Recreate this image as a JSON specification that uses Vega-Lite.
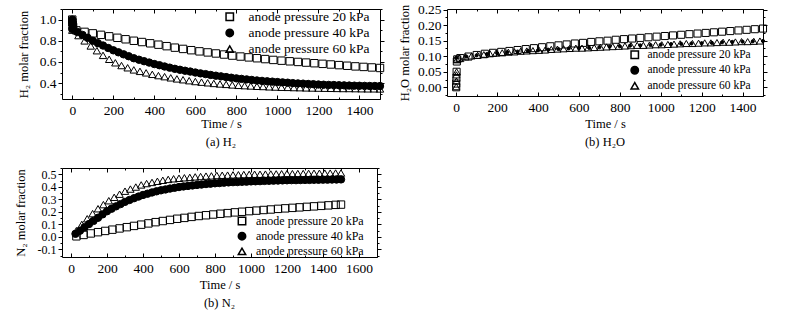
{
"$schema": "https://vega.github.io/schema/vega-lite/v6.json",
"background": "white",
"padding": {"left": 13, "top": 2, "right": 0, "bottom": 0},
"datasets": {
"h2": [
{"s":"20","t":0,"v":1.0},{"s":"20","t":1,"v":0.975},{"s":"20","t":2,"v":0.95},{"s":"20","t":4,"v":0.93},
{"s":"20","t":20,"v":0.898},{"s":"20","t":60,"v":0.884},{"s":"20","t":100,"v":0.87},{"s":"20","t":140,"v":0.856},{"s":"20","t":180,"v":0.842},{"s":"20","t":220,"v":0.828},{"s":"20","t":260,"v":0.814},{"s":"20","t":300,"v":0.80},{"s":"20","t":340,"v":0.788},{"s":"20","t":380,"v":0.776},{"s":"20","t":420,"v":0.763},{"s":"20","t":460,"v":0.749},{"s":"20","t":500,"v":0.735},{"s":"20","t":540,"v":0.723},{"s":"20","t":580,"v":0.711},{"s":"20","t":620,"v":0.70},{"s":"20","t":660,"v":0.69},{"s":"20","t":700,"v":0.68},{"s":"20","t":740,"v":0.67},{"s":"20","t":780,"v":0.66},{"s":"20","t":820,"v":0.651},{"s":"20","t":860,"v":0.643},{"s":"20","t":900,"v":0.635},{"s":"20","t":940,"v":0.627},{"s":"20","t":980,"v":0.619},{"s":"20","t":1020,"v":0.612},{"s":"20","t":1060,"v":0.606},{"s":"20","t":1100,"v":0.60},{"s":"20","t":1140,"v":0.594},{"s":"20","t":1180,"v":0.588},{"s":"20","t":1220,"v":0.582},{"s":"20","t":1260,"v":0.576},{"s":"20","t":1300,"v":0.57},{"s":"20","t":1340,"v":0.564},{"s":"20","t":1380,"v":0.558},{"s":"20","t":1420,"v":0.553},{"s":"20","t":1460,"v":0.548},{"s":"20","t":1500,"v":0.543},
{"s":"40","t":0,"v":1.0},{"s":"40","t":1,"v":0.975},{"s":"40","t":2,"v":0.95},{"s":"40","t":4,"v":0.93},
{"s":"40","t":0,"v":0.91},{"s":"40","t":25,"v":0.883},{"s":"40","t":50,"v":0.855},{"s":"40","t":75,"v":0.828},{"s":"40","t":100,"v":0.80},{"s":"40","t":125,"v":0.777},{"s":"40","t":150,"v":0.755},{"s":"40","t":175,"v":0.732},{"s":"40","t":200,"v":0.71},{"s":"40","t":225,"v":0.691},{"s":"40","t":250,"v":0.672},{"s":"40","t":275,"v":0.654},{"s":"40","t":300,"v":0.635},{"s":"40","t":325,"v":0.621},{"s":"40","t":350,"v":0.607},{"s":"40","t":375,"v":0.594},{"s":"40","t":400,"v":0.58},{"s":"40","t":425,"v":0.569},{"s":"40","t":450,"v":0.557},{"s":"40","t":475,"v":0.546},{"s":"40","t":500,"v":0.535},{"s":"40","t":525,"v":0.526},{"s":"40","t":550,"v":0.517},{"s":"40","t":575,"v":0.509},{"s":"40","t":600,"v":0.50},{"s":"40","t":625,"v":0.492},{"s":"40","t":650,"v":0.485},{"s":"40","t":675,"v":0.477},{"s":"40","t":700,"v":0.47},{"s":"40","t":725,"v":0.464},{"s":"40","t":750,"v":0.457},{"s":"40","t":775,"v":0.451},{"s":"40","t":800,"v":0.445},{"s":"40","t":825,"v":0.44},{"s":"40","t":850,"v":0.435},{"s":"40","t":875,"v":0.43},{"s":"40","t":900,"v":0.425},{"s":"40","t":925,"v":0.421},{"s":"40","t":950,"v":0.417},{"s":"40","t":975,"v":0.414},{"s":"40","t":1000,"v":0.41},{"s":"40","t":1025,"v":0.407},{"s":"40","t":1050,"v":0.404},{"s":"40","t":1075,"v":0.40},{"s":"40","t":1100,"v":0.397},{"s":"40","t":1125,"v":0.395},{"s":"40","t":1150,"v":0.392},{"s":"40","t":1175,"v":0.39},{"s":"40","t":1200,"v":0.387},{"s":"40","t":1225,"v":0.385},{"s":"40","t":1250,"v":0.383},{"s":"40","t":1275,"v":0.382},{"s":"40","t":1300,"v":0.38},{"s":"40","t":1325,"v":0.379},{"s":"40","t":1350,"v":0.377},{"s":"40","t":1375,"v":0.376},{"s":"40","t":1400,"v":0.375},{"s":"40","t":1425,"v":0.374},{"s":"40","t":1450,"v":0.373},{"s":"40","t":1475,"v":0.373},{"s":"40","t":1500,"v":0.372},
{"s":"60","t":0,"v":1.0},{"s":"60","t":1,"v":0.975},{"s":"60","t":2,"v":0.95},{"s":"60","t":4,"v":0.93},
{"s":"60","t":0,"v":0.90},{"s":"60","t":30,"v":0.849},{"s":"60","t":60,"v":0.799},{"s":"60","t":90,"v":0.751},{"s":"60","t":120,"v":0.706},{"s":"60","t":150,"v":0.662},{"s":"60","t":180,"v":0.625},{"s":"60","t":210,"v":0.592},{"s":"60","t":240,"v":0.566},{"s":"60","t":270,"v":0.545},{"s":"60","t":300,"v":0.525},{"s":"60","t":330,"v":0.511},{"s":"60","t":360,"v":0.497},{"s":"60","t":390,"v":0.483},{"s":"60","t":420,"v":0.471},{"s":"60","t":450,"v":0.461},{"s":"60","t":480,"v":0.45},{"s":"60","t":510,"v":0.44},{"s":"60","t":540,"v":0.432},{"s":"60","t":570,"v":0.423},{"s":"60","t":600,"v":0.415},{"s":"60","t":630,"v":0.409},{"s":"60","t":660,"v":0.403},{"s":"60","t":690,"v":0.397},{"s":"60","t":720,"v":0.392},{"s":"60","t":750,"v":0.388},{"s":"60","t":780,"v":0.383},{"s":"60","t":810,"v":0.379},{"s":"60","t":840,"v":0.376},{"s":"60","t":870,"v":0.373},{"s":"60","t":900,"v":0.37},{"s":"60","t":930,"v":0.368},{"s":"60","t":960,"v":0.365},{"s":"60","t":990,"v":0.363},{"s":"60","t":1020,"v":0.361},{"s":"60","t":1050,"v":0.36},{"s":"60","t":1080,"v":0.358},{"s":"60","t":1110,"v":0.357},{"s":"60","t":1140,"v":0.355},{"s":"60","t":1170,"v":0.354},{"s":"60","t":1200,"v":0.353},{"s":"60","t":1230,"v":0.352},{"s":"60","t":1260,"v":0.351},{"s":"60","t":1290,"v":0.35},{"s":"60","t":1320,"v":0.349},{"s":"60","t":1350,"v":0.349},{"s":"60","t":1380,"v":0.348},{"s":"60","t":1410,"v":0.347},{"s":"60","t":1440,"v":0.346},{"s":"60","t":1470,"v":0.346},{"s":"60","t":1500,"v":0.345}
],
"h2o": [
{"s":"20","t":0,"v":0.0},{"s":"20","t":0,"v":0.012},{"s":"20","t":1,"v":0.03},{"s":"20","t":2,"v":0.05},{"s":"20","t":3,"v":0.083},{"s":"20","t":5,"v":0.09},
{"s":"20","t":20,"v":0.094},{"s":"20","t":60,"v":0.099},{"s":"20","t":100,"v":0.104},{"s":"20","t":140,"v":0.108},{"s":"20","t":180,"v":0.111},{"s":"20","t":220,"v":0.114},{"s":"20","t":260,"v":0.117},{"s":"20","t":300,"v":0.12},{"s":"20","t":340,"v":0.123},{"s":"20","t":380,"v":0.126},{"s":"20","t":420,"v":0.129},{"s":"20","t":460,"v":0.132},{"s":"20","t":500,"v":0.135},{"s":"20","t":540,"v":0.138},{"s":"20","t":580,"v":0.141},{"s":"20","t":620,"v":0.143},{"s":"20","t":660,"v":0.146},{"s":"20","t":700,"v":0.148},{"s":"20","t":740,"v":0.15},{"s":"20","t":780,"v":0.153},{"s":"20","t":820,"v":0.155},{"s":"20","t":860,"v":0.157},{"s":"20","t":900,"v":0.159},{"s":"20","t":940,"v":0.161},{"s":"20","t":980,"v":0.163},{"s":"20","t":1020,"v":0.165},{"s":"20","t":1060,"v":0.167},{"s":"20","t":1100,"v":0.169},{"s":"20","t":1140,"v":0.171},{"s":"20","t":1180,"v":0.173},{"s":"20","t":1220,"v":0.175},{"s":"20","t":1260,"v":0.177},{"s":"20","t":1300,"v":0.179},{"s":"20","t":1340,"v":0.181},{"s":"20","t":1380,"v":0.183},{"s":"20","t":1420,"v":0.185},{"s":"20","t":1460,"v":0.187},{"s":"20","t":1500,"v":0.189},
{"s":"40","t":0,"v":0.095},{"s":"40","t":50,"v":0.099},{"s":"40","t":100,"v":0.103},{"s":"40","t":150,"v":0.107},{"s":"40","t":200,"v":0.11},{"s":"40","t":250,"v":0.113},{"s":"40","t":300,"v":0.115},{"s":"40","t":350,"v":0.117},{"s":"40","t":400,"v":0.119},{"s":"40","t":450,"v":0.121},{"s":"40","t":500,"v":0.123},{"s":"40","t":550,"v":0.125},{"s":"40","t":600,"v":0.126},{"s":"40","t":650,"v":0.127},{"s":"40","t":700,"v":0.129},{"s":"40","t":750,"v":0.131},{"s":"40","t":800,"v":0.132},{"s":"40","t":850,"v":0.134},{"s":"40","t":900,"v":0.135},{"s":"40","t":950,"v":0.136},{"s":"40","t":1000,"v":0.137},{"s":"40","t":1050,"v":0.139},{"s":"40","t":1100,"v":0.14},{"s":"40","t":1150,"v":0.141},{"s":"40","t":1200,"v":0.142},{"s":"40","t":1250,"v":0.143},{"s":"40","t":1300,"v":0.145},{"s":"40","t":1350,"v":0.146},{"s":"40","t":1400,"v":0.147},{"s":"40","t":1450,"v":0.148},{"s":"40","t":1500,"v":0.149},
{"s":"60","t":0,"v":0.002},{"s":"60","t":1,"v":0.02},{"s":"60","t":1,"v":0.04},{"s":"60","t":2,"v":0.05},{"s":"60","t":4,"v":0.09},
{"s":"60","t":15,"v":0.094},{"s":"60","t":45,"v":0.098},{"s":"60","t":75,"v":0.101},{"s":"60","t":105,"v":0.103},{"s":"60","t":135,"v":0.105},{"s":"60","t":165,"v":0.108},{"s":"60","t":195,"v":0.11},{"s":"60","t":225,"v":0.111},{"s":"60","t":255,"v":0.113},{"s":"60","t":285,"v":0.114},{"s":"60","t":315,"v":0.116},{"s":"60","t":345,"v":0.117},{"s":"60","t":375,"v":0.118},{"s":"60","t":405,"v":0.119},{"s":"60","t":435,"v":0.12},{"s":"60","t":465,"v":0.122},{"s":"60","t":495,"v":0.123},{"s":"60","t":525,"v":0.124},{"s":"60","t":555,"v":0.125},{"s":"60","t":585,"v":0.126},{"s":"60","t":615,"v":0.126},{"s":"60","t":645,"v":0.127},{"s":"60","t":675,"v":0.128},{"s":"60","t":705,"v":0.129},{"s":"60","t":735,"v":0.13},{"s":"60","t":765,"v":0.131},{"s":"60","t":795,"v":0.132},{"s":"60","t":825,"v":0.133},{"s":"60","t":855,"v":0.134},{"s":"60","t":885,"v":0.135},{"s":"60","t":915,"v":0.135},{"s":"60","t":945,"v":0.136},{"s":"60","t":975,"v":0.137},{"s":"60","t":1005,"v":0.137},{"s":"60","t":1035,"v":0.138},{"s":"60","t":1065,"v":0.139},{"s":"60","t":1095,"v":0.14},{"s":"60","t":1125,"v":0.141},{"s":"60","t":1155,"v":0.141},{"s":"60","t":1185,"v":0.142},{"s":"60","t":1215,"v":0.143},{"s":"60","t":1245,"v":0.143},{"s":"60","t":1275,"v":0.144},{"s":"60","t":1305,"v":0.145},{"s":"60","t":1335,"v":0.145},{"s":"60","t":1365,"v":0.146},{"s":"60","t":1395,"v":0.147},{"s":"60","t":1425,"v":0.147},{"s":"60","t":1455,"v":0.148},{"s":"60","t":1485,"v":0.149}
],
"n2": [
{"s":"20","t":30,"v":0.005},{"s":"20","t":70,"v":0.016},{"s":"20","t":110,"v":0.028},{"s":"20","t":150,"v":0.038},{"s":"20","t":190,"v":0.048},{"s":"20","t":230,"v":0.058},{"s":"20","t":270,"v":0.068},{"s":"20","t":310,"v":0.078},{"s":"20","t":350,"v":0.088},{"s":"20","t":390,"v":0.098},{"s":"20","t":430,"v":0.108},{"s":"20","t":470,"v":0.118},{"s":"20","t":510,"v":0.127},{"s":"20","t":550,"v":0.136},{"s":"20","t":590,"v":0.145},{"s":"20","t":630,"v":0.152},{"s":"20","t":670,"v":0.16},{"s":"20","t":710,"v":0.167},{"s":"20","t":750,"v":0.173},{"s":"20","t":790,"v":0.179},{"s":"20","t":830,"v":0.185},{"s":"20","t":870,"v":0.19},{"s":"20","t":910,"v":0.196},{"s":"20","t":950,"v":0.201},{"s":"20","t":990,"v":0.206},{"s":"20","t":1030,"v":0.21},{"s":"20","t":1070,"v":0.215},{"s":"20","t":1110,"v":0.219},{"s":"20","t":1150,"v":0.224},{"s":"20","t":1190,"v":0.228},{"s":"20","t":1230,"v":0.232},{"s":"20","t":1270,"v":0.236},{"s":"20","t":1310,"v":0.24},{"s":"20","t":1350,"v":0.244},{"s":"20","t":1390,"v":0.248},{"s":"20","t":1430,"v":0.252},{"s":"20","t":1470,"v":0.256},{"s":"20","t":1500,"v":0.258},
{"s":"40","t":25,"v":0.025},{"s":"40","t":50,"v":0.05},{"s":"40","t":75,"v":0.077},{"s":"40","t":100,"v":0.103},{"s":"40","t":125,"v":0.128},{"s":"40","t":150,"v":0.153},{"s":"40","t":175,"v":0.18},{"s":"40","t":200,"v":0.205},{"s":"40","t":225,"v":0.225},{"s":"40","t":250,"v":0.244},{"s":"40","t":275,"v":0.262},{"s":"40","t":300,"v":0.28},{"s":"40","t":325,"v":0.295},{"s":"40","t":350,"v":0.309},{"s":"40","t":375,"v":0.322},{"s":"40","t":400,"v":0.335},{"s":"40","t":425,"v":0.345},{"s":"40","t":450,"v":0.355},{"s":"40","t":475,"v":0.364},{"s":"40","t":500,"v":0.372},{"s":"40","t":525,"v":0.379},{"s":"40","t":550,"v":0.386},{"s":"40","t":575,"v":0.392},{"s":"40","t":600,"v":0.398},{"s":"40","t":625,"v":0.403},{"s":"40","t":650,"v":0.407},{"s":"40","t":675,"v":0.411},{"s":"40","t":700,"v":0.415},{"s":"40","t":725,"v":0.418},{"s":"40","t":750,"v":0.422},{"s":"40","t":775,"v":0.425},{"s":"40","t":800,"v":0.428},{"s":"40","t":825,"v":0.43},{"s":"40","t":850,"v":0.433},{"s":"40","t":875,"v":0.435},{"s":"40","t":900,"v":0.437},{"s":"40","t":925,"v":0.438},{"s":"40","t":950,"v":0.44},{"s":"40","t":975,"v":0.441},{"s":"40","t":1000,"v":0.443},{"s":"40","t":1025,"v":0.444},{"s":"40","t":1050,"v":0.445},{"s":"40","t":1075,"v":0.447},{"s":"40","t":1100,"v":0.448},{"s":"40","t":1125,"v":0.449},{"s":"40","t":1150,"v":0.45},{"s":"40","t":1175,"v":0.451},{"s":"40","t":1200,"v":0.452},{"s":"40","t":1225,"v":0.453},{"s":"40","t":1250,"v":0.453},{"s":"40","t":1275,"v":0.454},{"s":"40","t":1300,"v":0.455},{"s":"40","t":1325,"v":0.455},{"s":"40","t":1350,"v":0.456},{"s":"40","t":1375,"v":0.456},{"s":"40","t":1400,"v":0.457},{"s":"40","t":1425,"v":0.457},{"s":"40","t":1450,"v":0.458},{"s":"40","t":1475,"v":0.458},{"s":"40","t":1500,"v":0.459},
{"s":"60","t":30,"v":0.05},{"s":"60","t":60,"v":0.10},{"s":"60","t":90,"v":0.145},{"s":"60","t":120,"v":0.186},{"s":"60","t":150,"v":0.225},{"s":"60","t":180,"v":0.258},{"s":"60","t":210,"v":0.289},{"s":"60","t":240,"v":0.316},{"s":"60","t":270,"v":0.341},{"s":"60","t":300,"v":0.365},{"s":"60","t":330,"v":0.382},{"s":"60","t":360,"v":0.398},{"s":"60","t":390,"v":0.415},{"s":"60","t":420,"v":0.426},{"s":"60","t":450,"v":0.435},{"s":"60","t":480,"v":0.444},{"s":"60","t":510,"v":0.452},{"s":"60","t":540,"v":0.459},{"s":"60","t":570,"v":0.464},{"s":"60","t":600,"v":0.468},{"s":"60","t":630,"v":0.472},{"s":"60","t":660,"v":0.475},{"s":"60","t":690,"v":0.479},{"s":"60","t":720,"v":0.482},{"s":"60","t":750,"v":0.485},{"s":"60","t":780,"v":0.487},{"s":"60","t":810,"v":0.49},{"s":"60","t":840,"v":0.492},{"s":"60","t":870,"v":0.493},{"s":"60","t":900,"v":0.495},{"s":"60","t":930,"v":0.496},{"s":"60","t":960,"v":0.498},{"s":"60","t":990,"v":0.499},{"s":"60","t":1020,"v":0.5},{"s":"60","t":1050,"v":0.5},{"s":"60","t":1080,"v":0.501},{"s":"60","t":1110,"v":0.502},{"s":"60","t":1140,"v":0.503},{"s":"60","t":1170,"v":0.504},{"s":"60","t":1200,"v":0.505},{"s":"60","t":1230,"v":0.505},{"s":"60","t":1260,"v":0.506},{"s":"60","t":1290,"v":0.506},{"s":"60","t":1320,"v":0.507},{"s":"60","t":1350,"v":0.508},{"s":"60","t":1380,"v":0.508},{"s":"60","t":1410,"v":0.509},{"s":"60","t":1440,"v":0.509},{"s":"60","t":1470,"v":0.51},{"s":"60","t":1500,"v":0.51}
]
},
"columns": 2,
"spacing": {"column": 67, "row": 69},
"bounds": "flush",
"resolve": {"scale": {"shape": "independent", "fill": "independent"}, "legend": {"shape": "independent", "fill": "independent"}},
"concat": [
{
"width": 318, "height": 90,
"data": {"name": "h2"},
"title": {"text": "(a) H₂", "orient": "bottom", "offset": 6},
"layer": [
{
"mark": {"type": "point", "filled": true, "opacity": 1, "stroke": "black", "strokeWidth": 1, "size": 55},
"encoding": {
"x": {"field": "t", "type": "quantitative", "scale": {"domain": [-50, 1500], "nice": false, "zero": false},
"axis": {"title": "Time / s", "values": [0,100,200,300,400,500,600,700,800,900,1000,1100,1200,1300,1400,1500], "labelExpr": "datum.value % 200 === 0 ? format(datum.value, 'd') : ''", "tickSize": {"condition": {"test": "datum.value % 200 === 0", "value": -4}, "value": -2}, "labelPadding": 8, "titlePadding": 1}},
"y": {"field": "v", "type": "quantitative", "scale": {"domain": [0.25, 1.1], "nice": false, "zero": false},
"axis": {"title": "H₂ molar fraction", "values": [0.3,0.4,0.5,0.6,0.7,0.8,0.9,1.0,1.1], "labelExpr": "round(datum.value*10) % 2 === 0 ? format(datum.value, '.1f') : ''", "tickSize": {"condition": {"test": "round(datum.value*10) % 2 === 0", "value": 4}, "value": 2}, "labelPadding": 2, "titlePadding": 9}},
"shape": {"field": "s", "type": "nominal", "scale": {"domain": ["20","40","60"], "range": ["square","circle","triangle-up"]},
"legend": {"title": null, "orient": "none", "legendX": 161, "legendY": 1, "labelFont": "Liberation Serif", "labelFontSize": 13.5, "labelOffset": 12, "rowPadding": 1.2, "labelExpr": "'anode pressure ' + datum.label + ' kPa'", "encode": {"symbols": {"update": {"stroke": {"value": "black"}, "strokeWidth": {"value": 1}}}}}},
"fill": {"field": "s", "type": "nominal", "scale": {"domain": ["20","40","60"], "range": ["transparent","black","transparent"]},
"legend": {"title": null, "orient": "none", "legendX": 161, "legendY": 1, "labelFont": "Liberation Serif", "labelFontSize": 13.5, "labelOffset": 12, "rowPadding": 1.2, "labelExpr": "'anode pressure ' + datum.label + ' kPa'", "encode": {"symbols": {"update": {"stroke": {"value": "black"}, "strokeWidth": {"value": 1}}}}}}
}
},
{
"mark": {"type": "point", "opacity": 0},
"encoding": {
"x": {"field": "t", "type": "quantitative", "axis": {"orient": "top", "title": null, "labels": false, "values": [0,100,200,300,400,500,600,700,800,900,1000,1100,1200,1300,1400,1500], "tickSize": {"condition": {"test": "datum.value % 200 === 0", "value": -4}, "value": -2}}},
"y": {"field": "v", "type": "quantitative", "axis": {"orient": "right", "title": null, "labels": false, "values": [0.3,0.4,0.5,0.6,0.7,0.8,0.9,1.0,1.1], "tickSize": {"condition": {"test": "round(datum.value*10) % 2 === 0", "value": 4}, "value": 2}}}
}
}
],
"resolve": {"axis": {"x": "independent", "y": "independent"}}
},
{
"width": 316, "height": 87,
"data": {"name": "h2o"},
"title": {"text": "(b) H₂O", "orient": "bottom", "offset": 6},
"layer": [
{
"mark": {"type": "point", "filled": true, "opacity": 1, "stroke": "black", "strokeWidth": 1},
"encoding": {
"x": {"field": "t", "type": "quantitative", "scale": {"domain": [-45, 1500], "nice": false, "zero": false},
"axis": {"title": "Time / s", "values": [0,100,200,300,400,500,600,700,800,900,1000,1100,1200,1300,1400,1500], "labelExpr": "datum.value % 200 === 0 ? format(datum.value, 'd') : ''", "tickSize": {"condition": {"test": "datum.value % 200 === 0", "value": -4}, "value": -2}, "labelPadding": 8, "titlePadding": 4}},
"y": {"field": "v", "type": "quantitative", "scale": {"domain": [-0.028, 0.252], "nice": false, "zero": false},
"axis": {"title": "H₂O molar fraction", "values": [-0.025,0,0.025,0.05,0.075,0.1,0.125,0.15,0.175,0.2,0.225,0.25], "labelOverlap": false, "labelExpr": "round(datum.value*40) % 2 === 0 ? format(datum.value, '.2f') : ''", "tickSize": {"condition": {"test": "round(datum.value*40) % 2 === 0", "value": 4}, "value": 2}, "labelPadding": 2, "titlePadding": 6}},
"size": {"condition": {"test": "datum.s === '40'", "value": 10}, "value": 50},
"shape": {"field": "s", "type": "nominal", "scale": {"domain": ["20","40","60"], "range": ["square","circle","triangle-up"]},
"legend": {"title": null, "orient": "none", "legendX": 182, "legendY": 40, "labelFont": "Liberation Serif", "labelFontSize": 11.5, "labelOffset": 7, "rowPadding": 1.5, "labelExpr": "'anode pressure ' + datum.label + ' kPa'", "encode": {"symbols": {"enter": {"size": {"signal": "datum.label == '40' ? 12 : 55"}}, "update": {"stroke": {"value": "black"}, "strokeWidth": {"value": 1}, "size": {"signal": "datum.label == '40' ? 12 : 55"}}}}}},
"fill": {"field": "s", "type": "nominal", "scale": {"domain": ["20","40","60"], "range": ["transparent","black","transparent"]},
"legend": {"title": null, "orient": "none", "legendX": 182, "legendY": 40, "labelFont": "Liberation Serif", "labelFontSize": 11.5, "labelOffset": 7, "rowPadding": 1.5, "labelExpr": "'anode pressure ' + datum.label + ' kPa'", "encode": {"symbols": {"enter": {"size": {"signal": "datum.label == '40' ? 12 : 55"}}, "update": {"stroke": {"value": "black"}, "strokeWidth": {"value": 1}, "size": {"signal": "datum.label == '40' ? 12 : 55"}}}}}}
}
},
{
"mark": {"type": "point", "opacity": 0},
"encoding": {
"x": {"field": "t", "type": "quantitative", "axis": {"orient": "top", "title": null, "labels": false, "values": [0,100,200,300,400,500,600,700,800,900,1000,1100,1200,1300,1400,1500], "tickSize": {"condition": {"test": "datum.value % 200 === 0", "value": -4}, "value": -2}}},
"y": {"field": "v", "type": "quantitative", "axis": {"orient": "right", "title": null, "labels": false, "values": [-0.025,0,0.025,0.05,0.075,0.1,0.125,0.15,0.175,0.2,0.225,0.25], "tickSize": {"condition": {"test": "round(datum.value*40) % 2 === 0", "value": 4}, "value": 2}}}
}
}
],
"resolve": {"axis": {"x": "independent", "y": "independent"}}
},
{
"width": 315, "height": 89,
"data": {"name": "n2"},
"title": {"text": "(b) N₂", "orient": "bottom", "offset": 6},
"layer": [
{
"mark": {"type": "point", "filled": true, "opacity": 1, "stroke": "black", "strokeWidth": 1, "size": 55},
"encoding": {
"x": {"field": "t", "type": "quantitative", "scale": {"domain": [-50, 1700], "nice": false, "zero": false},
"axis": {"title": "Time / s", "values": [0,100,200,300,400,500,600,700,800,900,1000,1100,1200,1300,1400,1500,1600,1700], "labelExpr": "datum.value % 200 === 0 ? format(datum.value, 'd') : ''", "tickSize": {"condition": {"test": "datum.value % 200 === 0", "value": -4}, "value": -2}, "labelPadding": 8, "titlePadding": 4}},
"y": {"field": "v", "type": "quantitative", "scale": {"domain": [-0.16, 0.55], "nice": false, "zero": false},
"axis": {"title": "N₂ molar fraction", "values": [-0.15,-0.1,-0.05,0,0.05,0.1,0.15,0.2,0.25,0.3,0.35,0.4,0.45,0.5,0.55], "labelOverlap": false, "labelFontSize": 12, "labelExpr": "round(datum.value*20) % 2 === 0 ? replace(format(datum.value, '.1f'), '−', '-') : ''", "tickSize": {"condition": {"test": "round(datum.value*20) % 2 === 0", "value": 4}, "value": 2}, "labelPadding": 2, "titlePadding": 10}},
"shape": {"field": "s", "type": "nominal", "scale": {"domain": ["20","40","60"], "range": ["square","circle","triangle-up"]},
"legend": {"title": null, "orient": "none", "legendX": 174, "legendY": 47, "labelFont": "Liberation Serif", "labelFontSize": 12, "labelOffset": 8, "rowPadding": 1.2, "labelExpr": "'anode pressure ' + datum.label + ' kPa'", "encode": {"symbols": {"update": {"stroke": {"value": "black"}, "strokeWidth": {"value": 1}}}}}},
"fill": {"field": "s", "type": "nominal", "scale": {"domain": ["20","40","60"], "range": ["transparent","black","transparent"]},
"legend": {"title": null, "orient": "none", "legendX": 174, "legendY": 47, "labelFont": "Liberation Serif", "labelFontSize": 12, "labelOffset": 8, "rowPadding": 1.2, "labelExpr": "'anode pressure ' + datum.label + ' kPa'", "encode": {"symbols": {"update": {"stroke": {"value": "black"}, "strokeWidth": {"value": 1}}}}}}
}
},
{
"mark": {"type": "point", "opacity": 0},
"encoding": {
"x": {"field": "t", "type": "quantitative", "axis": {"orient": "top", "title": null, "labels": false, "values": [0,100,200,300,400,500,600,700,800,900,1000,1100,1200,1300,1400,1500,1600,1700], "tickSize": {"condition": {"test": "datum.value % 200 === 0", "value": -4}, "value": -2}}},
"y": {"field": "v", "type": "quantitative", "axis": {"orient": "right", "title": null, "labels": false, "values": [-0.15,-0.1,-0.05,0,0.05,0.1,0.15,0.2,0.25,0.3,0.35,0.4,0.45,0.5,0.55], "tickSize": {"condition": {"test": "round(datum.value*20) % 2 === 0", "value": 4}, "value": 2}}}
}
}
],
"resolve": {"axis": {"x": "independent", "y": "independent"}}
}
],
"config": {
"font": "Liberation Serif",
"view": {"stroke": "black", "strokeWidth": 1},
"axis": {"domain": false, "grid": false, "labelFont": "Liberation Serif", "labelFontSize": 13.5, "labelColor": "black", "titleFont": "Liberation Serif", "titleFontSize": 12.5, "titleFontWeight": "normal", "titleColor": "black", "tickColor": "black", "tickWidth": 1},
"title": {"font": "Liberation Serif", "fontSize": 12.5, "fontWeight": "normal", "color": "black"},
"legend": {"labelFont": "Liberation Serif", "labelColor": "black", "symbolSize": 55}
}
}
